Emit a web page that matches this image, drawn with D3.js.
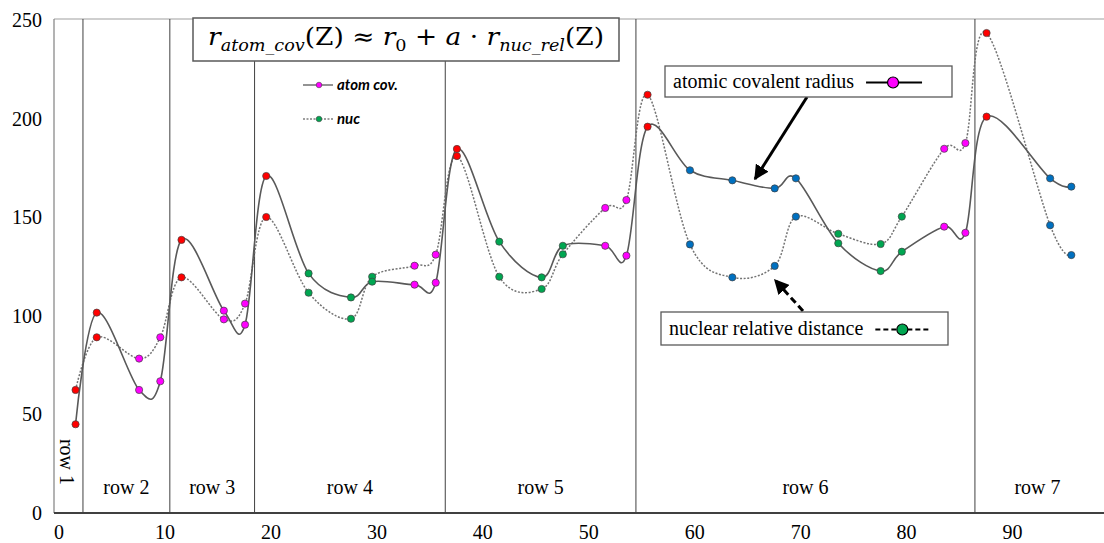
<!DOCTYPE html>
<html>
<head>
<meta charset="utf-8">
<script src="https://cdn.jsdelivr.net/npm/d3@7"></script>
<style>
  body { margin: 0; background: #fff; }
  svg { display: block; }
  .tick text { font-family: "Liberation Serif", "Times New Roman", serif; font-size: 20px; fill: #000; }
</style>
</head>
<body>
<svg width="1104" height="543"></svg>
<script>
// values (x = plotted position, about Z + 0.6)
var zPos = [1.6, 3.6, 7.6, 9.6, 11.6, 15.6, 17.6, 19.6, 23.6, 27.6,
            29.6, 33.6, 35.6, 37.6, 41.6, 45.6, 47.6, 51.6, 53.6, 55.6,
            59.6, 63.6, 67.6, 69.6, 73.6, 77.6, 79.6, 83.6, 85.6, 87.6,
            93.6, 95.6];
var block = ["s", "s", "p", "p", "s", "p", "p", "s", "d", "d",
             "d", "p", "p", "s", "d", "d", "d", "p", "p", "s",
             "f", "f", "f", "f", "d", "d", "d", "p", "p", "s",
             "f", "f"];
var atomCov = [45, 101.6, 62.4, 66.8, 138.5, 102.6, 95.5, 170.9, 121.5, 109.3,
               117.3, 115.8, 116.8, 184.6, 137.6, 119.5, 135.5, 135.5, 130.5, 195.9,
               173.8, 168.7, 164.6, 169.7, 136.8, 122.7, 132.5, 145.2, 142.1, 201,
               169.7, 165.5];
var nucRel = [62.4, 89.1, 78.3, 89.1, 119.5, 98.2, 106.2, 150.1, 111.7, 98.5,
              119.8, 125.4, 131, 181, 119.8, 113.6, 131.2, 154.7, 158.7, 212.1,
              136.2, 119.5, 125.3, 150.3, 141.6, 136.4, 150.3, 184.7, 187.6, 243.4,
              145.9, 130.8];
var rowBounds = [2.3, 10.5, 18.5, 36.5, 54.5, 86.5];
var rowNames = ["row 1", "row 2", "row 3", "row 4", "row 5", "row 6", "row 7"];
var xTicks = [0, 10, 20, 30, 40, 50, 60, 70, 80, 90];
var yTicks = [0, 50, 100, 150, 200, 250];

var blockColors = { s: "#ff0000", p: "#ff00ff", d: "#00a651", f: "#0070c0" };

var svg = d3.select("svg");
var LEFT = 54, RIGHT = 1104, TOP = 19, BOTTOM = 513;

var x = d3.scaleLinear().domain([0, 90]).range([58.6, 1012]);
var y = d3.scaleLinear().domain([0, 250]).range([BOTTOM, 20]);

svg.append("rect").attr("width", 1104).attr("height", 543).attr("fill", "#fff");

// frame
svg.append("line").attr("x1", LEFT).attr("x2", RIGHT).attr("y1", TOP).attr("y2", TOP)
  .attr("stroke", "#bfbfbf").attr("stroke-width", 1.5);
svg.append("line").attr("x1", LEFT).attr("x2", LEFT).attr("y1", TOP).attr("y2", BOTTOM)
  .attr("stroke", "#808080").attr("stroke-width", 1.2);

// row separators
svg.selectAll(".sep").data(rowBounds).enter().append("line")
  .attr("class", "sep")
  .attr("x1", function(d) { return x(d); }).attr("x2", function(d) { return x(d); })
  .attr("y1", TOP).attr("y2", BOTTOM)
  .attr("stroke", "#404040").attr("stroke-width", 1);

// row labels
var edges = [LEFT].concat(rowBounds.map(function(d) { return x(d); })).concat([1100]);
rowNames.forEach(function(name, i) {
  var cx = (edges[i] + edges[i + 1]) / 2;
  var t = svg.append("text").text(name)
    .attr("font-family", "Liberation Serif, Times New Roman, serif")
    .attr("font-size", 20).attr("fill", "#000").attr("text-anchor", "middle");
  if (i === 0) {
    t.attr("transform", "translate(" + (cx - 8) + ",462) rotate(90)");
  } else {
    t.attr("x", cx).attr("y", 494);
  }
});

// axes
var gx = svg.append("g").attr("transform", "translate(0," + BOTTOM + ")")
  .call(d3.axisBottom(x).tickValues(xTicks).tickSize(0).tickPadding(12));
gx.select(".domain").remove();
svg.append("line").attr("x1", LEFT).attr("x2", RIGHT).attr("y1", BOTTOM).attr("y2", BOTTOM)
  .attr("stroke", "#404040").attr("stroke-width", 2);

var gy = svg.append("g").attr("transform", "translate(" + LEFT + ",0)")
  .call(d3.axisLeft(y).tickValues(yTicks).tickSize(0).tickPadding(12));
gy.select(".domain").remove();

// the two smoothed series
var pts = zPos.map(function(z, i) { return { z: z, a: atomCov[i], n: nucRel[i], b: block[i] }; });
var curve = d3.curveCardinal.tension(0);

svg.append("path").datum(pts)
  .attr("fill", "none").attr("stroke", "#737373").attr("stroke-width", 1.5)
  .attr("stroke-dasharray", "2,1.6")
  .attr("d", d3.line().curve(curve).x(function(d) { return x(d.z); }).y(function(d) { return y(d.n); }));

svg.append("path").datum(pts)
  .attr("fill", "none").attr("stroke", "#595959").attr("stroke-width", 1.6)
  .attr("d", d3.line().curve(curve).x(function(d) { return x(d.z); }).y(function(d) { return y(d.a); }));

["n", "a"].forEach(function(key) {
  svg.selectAll(".pt-" + key).data(pts).enter().append("circle")
    .attr("class", "pt-" + key)
    .attr("cx", function(d) { return x(d.z); })
    .attr("cy", function(d) { return y(d[key]); })
    .attr("r", 3.6)
    .attr("fill", function(d) { return blockColors[d.b]; })
    .attr("stroke", "#404040").attr("stroke-width", 0.7);
});

// small legend inside row 4
var leg = svg.append("g").attr("font-family", "Lato, Open Sans, sans-serif")
  .attr("font-weight", "bold").attr("font-style", "italic").attr("font-size", 15);
leg.append("line").attr("x1", 303).attr("x2", 333).attr("y1", 85).attr("y2", 85)
  .attr("stroke", "#595959").attr("stroke-width", 1.3);
leg.append("circle").attr("cx", 319).attr("cy", 85).attr("r", 2.8)
  .attr("fill", blockColors.p).attr("stroke", "#404040").attr("stroke-width", 0.6);
leg.append("text").attr("x", 337).attr("y", 90).text("atom cov.");
leg.append("line").attr("x1", 303).attr("x2", 333).attr("y1", 119).attr("y2", 119)
  .attr("stroke", "#7f7f7f").attr("stroke-width", 1.3).attr("stroke-dasharray", "2,1.5");
leg.append("circle").attr("cx", 319).attr("cy", 119).attr("r", 2.8)
  .attr("fill", blockColors.d).attr("stroke", "#404040").attr("stroke-width", 0.6);
leg.append("text").attr("x", 337).attr("y", 124).text("nuc");

// formula box
svg.append("rect").attr("x", 193).attr("y", 18).attr("width", 426).attr("height", 43)
  .attr("fill", "#fff").attr("stroke", "#595959").attr("stroke-width", 1.5);
var f = svg.append("text").attr("x", 208).attr("y", 45)
  .attr("font-family", "DejaVu Serif, Liberation Serif, serif").attr("font-size", 24)
  .attr("textLength", 396).attr("lengthAdjust", "spacingAndGlyphs");
f.append("tspan").attr("font-style", "italic").text("r");
f.append("tspan").attr("font-style", "italic").attr("font-size", 16).attr("dy", 6).text("atom_cov");
f.append("tspan").attr("dy", -6).text("(Z) \u2248  ");
f.append("tspan").attr("font-style", "italic").text("r");
f.append("tspan").attr("font-size", 16).attr("dy", 6).text("0");
f.append("tspan").attr("dy", -6).text(" + ");
f.append("tspan").attr("font-style", "italic").text("a");
f.append("tspan").text(" \u00b7 ");
f.append("tspan").attr("font-style", "italic").text("r");
f.append("tspan").attr("font-style", "italic").attr("font-size", 16).attr("dy", 6).text("nuc_rel");
f.append("tspan").attr("dy", -6).text("(Z)");

// annotation arrows
var defs = svg.append("defs");
defs.append("marker").attr("id", "head").attr("viewBox", "0 0 10 10")
  .attr("refX", 9).attr("refY", 5).attr("markerWidth", 5).attr("markerHeight", 5)
  .attr("markerUnits", "strokeWidth").attr("orient", "auto")
  .append("path").attr("d", "M0,0 L10,5 L0,10 z").attr("fill", "#000");

svg.append("line").attr("x1", 807).attr("y1", 97).attr("x2", 755).attr("y2", 179)
  .attr("stroke", "#000").attr("stroke-width", 3).attr("marker-end", "url(#head)");
svg.append("line").attr("x1", 803).attr("y1", 311).attr("x2", 775).attr("y2", 280)
  .attr("stroke", "#000").attr("stroke-width", 3).attr("stroke-dasharray", "7,4")
  .attr("marker-end", "url(#head)");

// annotation boxes
function callout(bx, by, bw, bh, label, dashed, color) {
  var g = svg.append("g");
  g.append("rect").attr("x", bx).attr("y", by).attr("width", bw).attr("height", bh)
    .attr("fill", "#fff").attr("stroke", "#595959").attr("stroke-width", 1.3);
  var t = g.append("text").attr("x", bx + 8).attr("y", by + bh / 2 + 6)
    .attr("font-family", "Liberation Serif, Times New Roman, serif").attr("font-size", 20)
    .attr("fill", "#000").text(label);
  var tw = t.node().getComputedTextLength();
  var lx = bx + 8 + tw + 12;
  var ly = by + bh / 2 + 1;
  g.append("line").attr("x1", lx).attr("x2", lx + 56).attr("y1", ly).attr("y2", ly)
    .attr("stroke", "#000").attr("stroke-width", 2.2)
    .attr("stroke-dasharray", dashed ? "5,3" : null);
  g.append("circle").attr("cx", lx + 27).attr("cy", ly).attr("r", 5.5)
    .attr("fill", color).attr("stroke", "#000").attr("stroke-width", 1.2);
}
callout(665, 66, 287, 31, "atomic covalent radius", false, blockColors.p);
callout(661, 312, 287, 33, "nuclear relative distance", true, blockColors.d);
</script>
</body>
</html>
